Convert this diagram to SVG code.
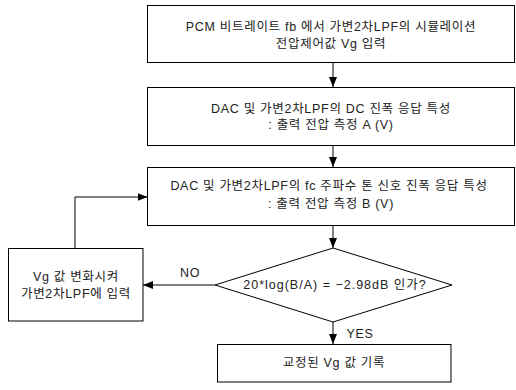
<svg xmlns="http://www.w3.org/2000/svg" width="516" height="390" viewBox="0 0 516 390">
<style>
.box{fill:#fff;stroke:#000;stroke-width:1}
.t{font-family:"Liberation Sans","Noto Sans CJK KR",sans-serif;font-size:12.5px;fill:#222;text-anchor:middle;letter-spacing:0.7px}
.c{fill:none;stroke:#000;stroke-width:1}
</style>
<defs>
<marker id="ah" viewBox="0 0 10 10" refX="10" refY="5" markerWidth="10" markerHeight="10" markerUnits="userSpaceOnUse" orient="auto">
<path d="M0,1 L10,5 L0,9 Z" fill="#000"/>
</marker>
</defs>
<rect width="516" height="390" fill="#fff"/>
<g id="connectors">
<line class="c" x1="333" y1="62" x2="333" y2="87" marker-end="url(#ah)"/>
<line class="c" x1="333" y1="145" x2="333" y2="167" marker-end="url(#ah)"/>
<line class="c" x1="333" y1="226" x2="333" y2="248" marker-end="url(#ah)"/>
<line class="c" x1="333" y1="322" x2="333" y2="344" marker-end="url(#ah)"/>
<line class="c" x1="215" y1="285" x2="143" y2="285" marker-end="url(#ah)"/>
<polyline class="c" points="75,248 75,197 147.5,197" marker-end="url(#ah)"/>
<text class="t" x="190" y="277">NO</text>
<text class="t" x="360" y="338">YES</text>
</g>
<g id="n1">
<rect class="box" x="147.5" y="5.5" width="367" height="57"/>
<text class="t" x="331" y="31">PCM 비트레이트 fb 에서 가변2차LPF의 시뮬레이션</text>
<text class="t" x="331" y="48">전압제어값 Vg 입력</text>
</g>
<g id="n2">
<rect class="box" x="147.5" y="87.5" width="367" height="58"/>
<text class="t" x="331" y="113">DAC 및 가변2차LPF의 DC 진폭 응답 특성</text>
<text class="t" x="331" y="129">: 출력 전압 측정 A (V)</text>
</g>
<g id="n3">
<rect class="box" x="147.5" y="167.5" width="367" height="58"/>
<text class="t" x="329" y="190">DAC 및 가변2차LPF의 fc 주파수 톤 신호 진폭 응답 특성</text>
<text class="t" x="331" y="208">: 출력 전압 측정 B (V)</text>
</g>
<g id="n4">
<polygon class="box" points="333,248 452,285 333,322 215,285"/>
<text class="t" x="335" y="289" style="letter-spacing:1px">20*log(B/A) = −2.98dB 인가?</text>
</g>
<g id="n5">
<rect class="box" x="8.5" y="248.5" width="134.5" height="72.5"/>
<text class="t" x="76" y="281">Vg 값  변화시켜</text>
<text class="t" x="76" y="298">가변2차LPF에 입력</text>
</g>
<g id="n6">
<rect class="box" x="217.5" y="344.5" width="233.5" height="37.5"/>
<text class="t" x="334" y="367">교정된 Vg 값 기록</text>
</g>
</svg>
